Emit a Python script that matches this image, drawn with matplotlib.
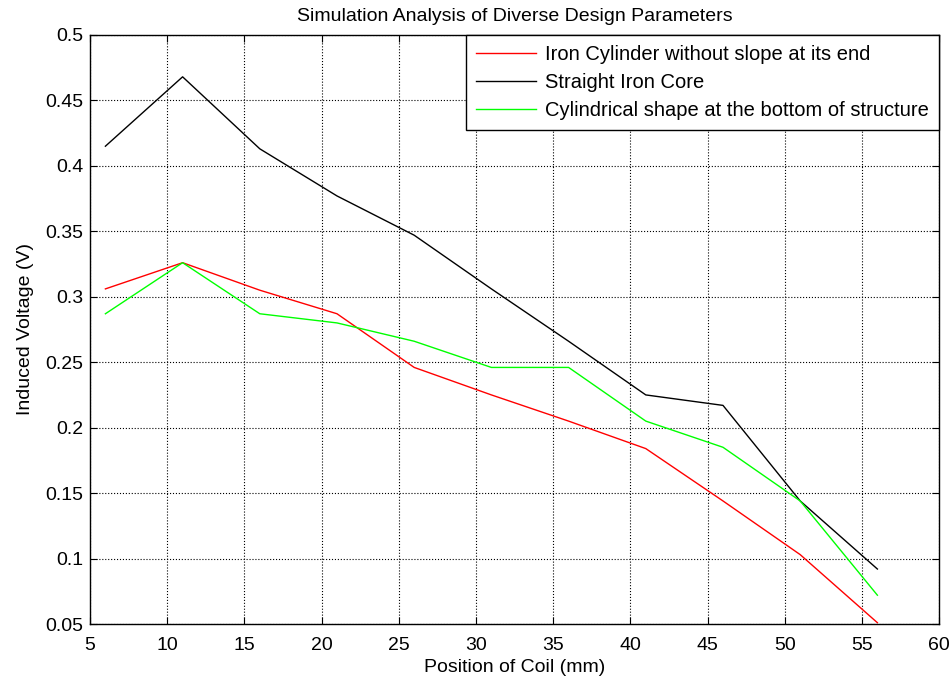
import matplotlib
matplotlib.use("Agg")
from matplotlib import pyplot as plt

plt.rcParams["font.family"] = ["Liberation Sans", "DejaVu Sans"]
plt.rcParams["font.size"] = 14

position = [6, 11, 16, 21, 26, 31, 36, 41, 46, 51, 56]
iron_cylinder = [0.306, 0.326, 0.305, 0.287, 0.246, 0.225, 0.205, 0.184, 0.144, 0.103, 0.051]
straight_core = [0.415, 0.468, 0.413, 0.377, 0.347, 0.306, 0.266, 0.225, 0.217, 0.144, 0.092]
cylindrical_bottom = [0.287, 0.326, 0.287, 0.280, 0.266, 0.246, 0.246, 0.205, 0.185, 0.144, 0.072]

labels = ["Iron Cylinder without slope at its end",
          "Straight Iron Core",
          "Cylindrical shape at the bottom of structure"]

fig = plt.figure(figsize=(9.52, 6.81), dpi=100)
ax = fig.add_axes([0.0945, 0.0837, 0.892, 0.865])

ax.plot(position, iron_cylinder, color="red", lw=1, label=labels[0])
ax.plot(position, straight_core, color="black", lw=1, label=labels[1])
ax.plot(position, cylindrical_bottom, color="#00ff00", lw=1, label=labels[2])

ax.set_xlim(5, 60)
ax.set_ylim(0.05, 0.5)
ax.set_xticks(range(5, 61, 5))
ax.set_yticks([0.05, 0.1, 0.15, 0.2, 0.25, 0.3, 0.35, 0.4, 0.45, 0.5])
ax.set_yticklabels(["0.05", "0.1", "0.15", "0.2", "0.25", "0.3", "0.35", "0.4", "0.45", "0.5"])
ax.grid(True, color="black", linestyle=":", linewidth=0.8)
ax.tick_params(direction="in", top=True, right=True, length=5, pad=5)
ax.tick_params(axis="x", pad=9)
for s in ax.spines.values():
    s.set_linewidth(1)

ax.set_title("Simulation Analysis of Diverse Design Parameters", fontsize=14, pad=10)
ax.set_xlabel("Position of Coil (mm)", labelpad=4)
ax.set_ylabel("Induced Voltage (V)", labelpad=8)

leg = ax.legend(loc="upper right", fancybox=False, framealpha=1, edgecolor="black",
                borderaxespad=0, handlelength=3.0, handletextpad=0.45,
                labelspacing=0.45, borderpad=0.5, fontsize=14.5)
leg.get_frame().set_linewidth(1)

fig.savefig("out.png", dpi=100)
